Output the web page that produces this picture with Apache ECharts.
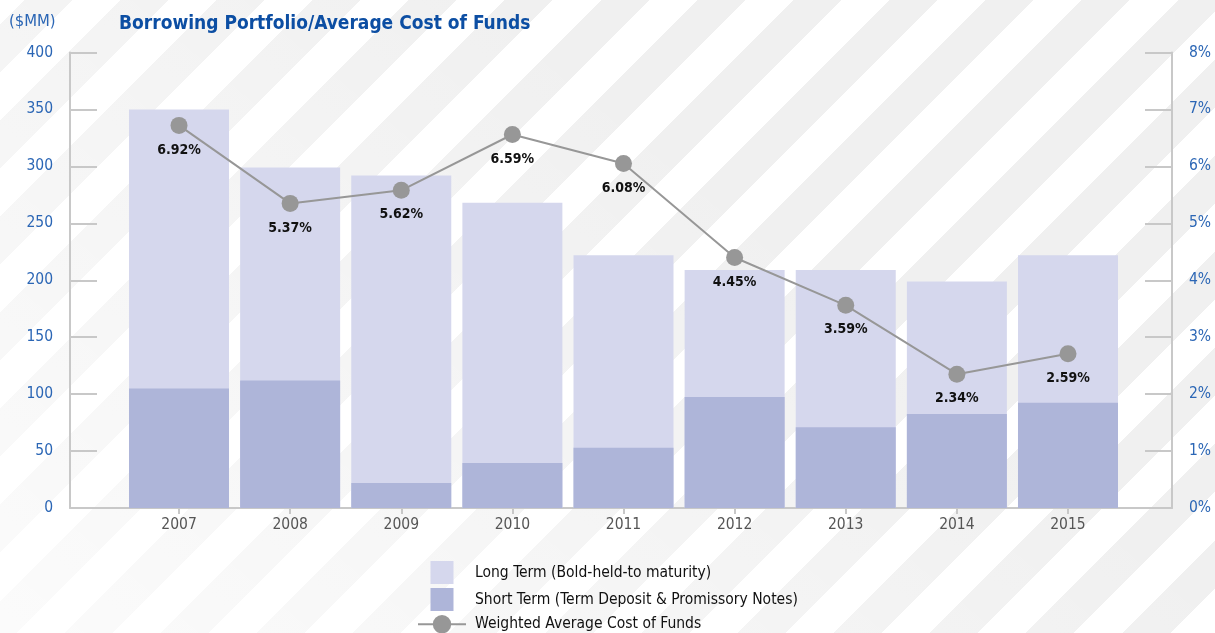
<!DOCTYPE html>
<html>
<head>
<meta charset="utf-8">
<script src="https://cdn.jsdelivr.net/npm/echarts@6/dist/echarts.min.js"></script>
<style>
  html, body { margin: 0; padding: 0; }
  body {
    width: 1215px; height: 633px; overflow: hidden;
    background:
      linear-gradient(40deg, rgba(255,255,255,0.75) 0%, rgba(255,255,255,0.35) 35%, rgba(255,255,255,0) 65%),
      repeating-linear-gradient(135deg, #ffffff 0px, #ffffff 17px, #f0f0f0 17px, #f0f0f0 51px, #ffffff 51px, #ffffff 68px);
    background-color: #fff;
  }
  #chart { width: 1215px; height: 633px; }
</style>
</head>
<body>
<div id="chart"></div>
<script>
// borrowing portfolio, $MM
const years = [2007, 2008, 2009, 2010, 2011, 2012, 2013, 2014, 2015];
const shortTerm = [105, 112, 22, 39.5, 53, 97.5, 71, 82.5, 92.5];
const longTerm = [245, 187, 270, 228.5, 169, 111.5, 138, 116.5, 129.5];
// weighted average cost of funds (%), as plotted, plus the printed labels
const costPct = [6.72, 5.35, 5.58, 6.56, 6.05, 4.40, 3.56, 2.35, 2.71];
const costLabels = ["6.92%", "5.37%", "5.62%", "6.59%", "6.08%", "4.45%", "3.59%", "2.34%", "2.59%"];

const font = '"Liberation Sans Narrow", "DejaVu Sans Condensed", "Roboto Condensed", "Liberation Sans", sans-serif';
const blue = "#2b66b5";
const axisGray = "#c8c8c8";

// long term sits on top of short term: draw the total behind the short bar
const totals = shortTerm.map((v, i) => v + longTerm[i]);

const chart = echarts.init(document.getElementById("chart"));

chart.setOption({
  animation: false,
  textStyle: { fontFamily: font },
  title: {
    text: "Borrowing Portfolio/Average Cost of Funds",
    left: 114,
    top: 10,
    textStyle: { color: "#0c4ea3", fontSize: 19, fontWeight: "bold", fontFamily: font }
  },
  graphic: [
    {
      type: "text",
      left: 9,
      top: 13,
      style: { text: "($MM)", fill: blue, fontSize: 16.5, fontFamily: font }
    }
  ],
  legend: {
    orient: "vertical",
    left: 412,
    top: 556,
    height: 120,
    itemWidth: 48,
    itemHeight: 23,
    itemGap: 4,
    symbolKeepAspect: true,
    textStyle: { color: "#111", fontSize: 15.5, fontFamily: font, padding: [0, 0, 0, 4] },
    data: [
      { name: "Long Term (Bold-held-to maturity)", icon: "path://M0,0h10v10h-10z" },
      { name: "Short Term (Term Deposit & Promissory Notes)", icon: "path://M0,0h10v10h-10z" },
      { name: "Weighted Average Cost of Funds" }
    ]
  },
  grid: { left: 70, right: 43, top: 52.5, bottom: 125 },
  xAxis: {
    type: "value",
    min: 2006.019,
    max: 2015.936,
    axisLine: { lineStyle: { color: axisGray, width: 2 } },
    axisTick: { show: true, customValues: years, length: 6, lineStyle: { color: axisGray, width: 2 } },
    axisLabel: {
      customValues: years,
      formatter: v => String(Math.round(v)),
      color: "#555",
      fontSize: 15.5,
      margin: 9
    },
    splitLine: { show: false }
  },
  yAxis: [
    {
      type: "value",
      min: 0,
      max: 400,
      interval: 50,
      axisLine: { show: true, lineStyle: { color: axisGray, width: 2 } },
      axisTick: { show: true, inside: true, length: 27, lineStyle: { color: axisGray, width: 2 } },
      axisLabel: { color: blue, fontSize: 15.5, margin: 17 },
      splitLine: { show: false }
    },
    {
      type: "value",
      min: 0,
      max: 8,
      interval: 1,
      position: "right",
      axisLine: { show: true, lineStyle: { color: axisGray, width: 2 } },
      axisTick: { show: true, inside: true, length: 27, lineStyle: { color: axisGray, width: 2 } },
      axisLabel: { color: blue, fontSize: 15.5, margin: 17, formatter: "{value}%" },
      splitLine: { show: false }
    }
  ],
  series: [
    {
      name: "Long Term (Bold-held-to maturity)",
      type: "bar",
      barWidth: 100,
      barGap: "-100%",
      itemStyle: { color: "#d5d7ed" },
      data: years.map((y, i) => [y, totals[i]])
    },
    {
      name: "Short Term (Term Deposit & Promissory Notes)",
      type: "bar",
      barWidth: 100,
      barGap: "-100%",
      itemStyle: { color: "#aeb5d9" },
      data: years.map((y, i) => [y, shortTerm[i]])
    },
    {
      name: "Weighted Average Cost of Funds",
      type: "line",
      yAxisIndex: 1,
      symbol: "circle",
      symbolSize: 17,
      itemStyle: { color: "#979797" },
      lineStyle: { color: "#979797", width: 2 },
      label: {
        show: true,
        position: "bottom",
        distance: 9,
        color: "#111",
        fontSize: 14,
        fontWeight: "bold",
        formatter: p => costLabels[p.dataIndex]
      },
      data: years.map((y, i) => [y, costPct[i]])
    }
  ]
});
</script>
</body>
</html>
